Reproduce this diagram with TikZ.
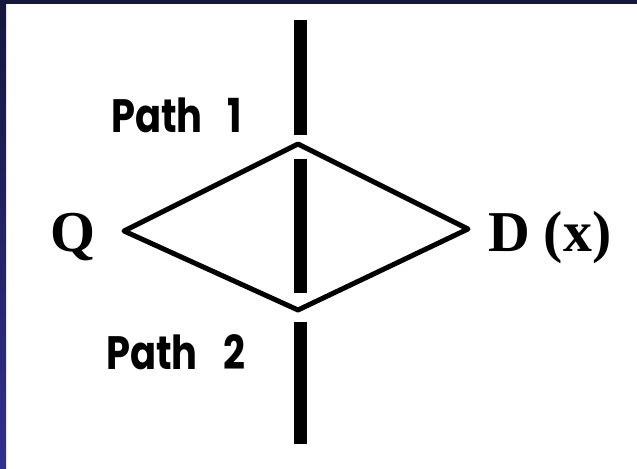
\documentclass[tikz,border=0pt]{standalone}
\usepackage{fontspec}
\setmainfont{Liberation Serif}
\newfontfamily\labelfont{Poppins}
\definecolor{frametop}{HTML}{16163F}
\definecolor{framebot}{HTML}{30308F}
% narrow geometric label text
\newcommand{\narrowtxt}[1]{\scalebox{0.82}[1]{#1}}
\begin{document}
\begin{tikzpicture}[x=1bp,y=-1bp,
  pathlabel/.style={font=\labelfont\bfseries\fontsize{47}{50}\selectfont, inner sep=0pt},
  endlabel/.style={font=\bfseries\fontsize{58}{60}\selectfont, inner sep=0pt},
  barseg/.style={line width=13bp},
  route/.style={line width=5bp, line join=round}]
  % page and frame
  \useasboundingbox (0,0) rectangle (637,469);
  \fill[white] (0,0) rectangle (637,469);
  \shade[top color=frametop, bottom color=framebot] (0,0) rectangle (6,469);
  \fill[frametop] (0,0) rectangle (637,4);

  % screen: a bar broken where the two routes pass
  \draw[barseg] (300.5,20) -- (300.5,135);
  \draw[barseg] (300.5,159) -- (300.5,293);
  \draw[barseg] (300.5,322) -- (300.5,444);

  % corners of the two routes
  \coordinate (src) at (124,231);
  \coordinate (top) at (298,144);
  \coordinate (det) at (468,229);
  \coordinate (bot) at (298,310);

  \draw[route] (src) -- (top) -- (det) -- (bot) -- cycle;

  % labels
  \node[pathlabel, anchor=base west] (p1) at (111,133)
    {\narrowtxt{Path}\hspace{25bp}\narrowtxt{1}};
  \node[pathlabel, anchor=base west] (p2) at (106,369)
    {\narrowtxt{Path}\hspace{26bp}\narrowtxt{2}};
  \node[endlabel, anchor=base west] (q) at (50,252) {Q};
  \node[endlabel, anchor=base west] (d) at (488,252) {D\hspace{14bp}(x)};
\end{tikzpicture}
\end{document}
